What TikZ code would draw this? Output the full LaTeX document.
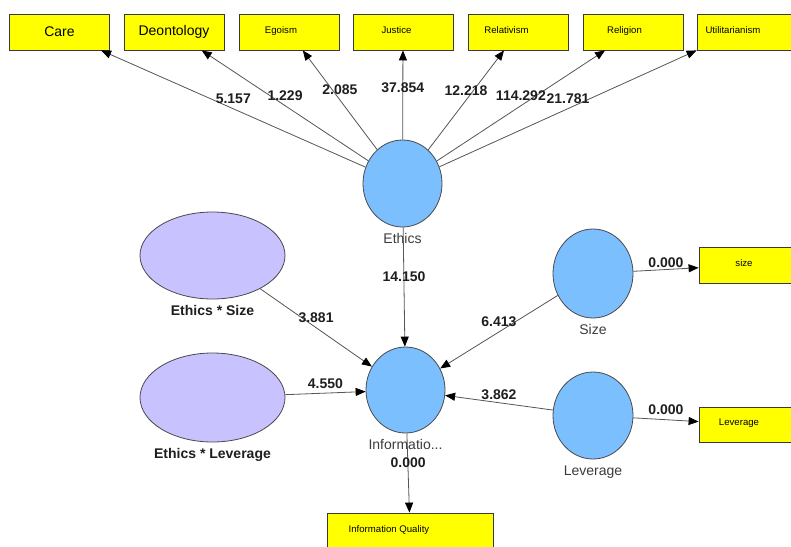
\documentclass[tikz,border=0pt]{standalone}
\usepackage{fontspec}
\setmainfont{Liberation Sans}
\usetikzlibrary{shapes.geometric,arrows.meta}
\definecolor{boxyel}{HTML}{FFFF00}
\definecolor{boxdraw}{HTML}{3A3A3A}
\definecolor{latblue}{HTML}{7CBFFF}
\definecolor{latlav}{HTML}{C8C2FF}
\definecolor{latdraw}{HTML}{4A4A4A}
\definecolor{linegray}{HTML}{555555}
\definecolor{coefcol}{HTML}{1E1E1E}
\definecolor{namecol}{HTML}{3C3C3C}
\newcommand\coeffont{\fontsize{14}{16}\selectfont\bfseries}
\newcommand\namefont{\fontsize{14}{16}\selectfont}
\newcommand\bigboxfont{\fontsize{14}{16}\selectfont}
\newcommand\smboxfont{\fontsize{9.6}{11}\selectfont}
\tikzset{
  ind/.style={draw=boxdraw, fill=boxyel, line width=0.8pt, minimum width=100pt, minimum height=36pt, inner sep=0pt},
  lat/.style={ellipse, draw=latdraw, fill=latblue, line width=0.8pt, inner sep=0pt},
  modlat/.style={lat, fill=latlav},
  conn/.style={draw=linegray, line width=0.8pt, -{Triangle[length=10pt,width=8pt,color=black]}},
  coef/.style={anchor=south, inner sep=0pt, yshift=4.5pt, font=\coeffont, text=coefcol},
  latname/.style={font=\namefont, text=namecol, inner sep=0pt, text height=10pt, text depth=3pt, yshift=-6pt},
  modname/.style={font=\namefont\bfseries, text=coefcol, inner sep=0pt, text height=10pt, text depth=3pt, yshift=-6pt},
  smtxt/.style={font=\smboxfont, text=black, inner sep=0pt, text height=6.9pt, text depth=0pt},
}
\begin{document}
\begin{tikzpicture}[x=1pt,y=-1pt]
\useasboundingbox (0,0) rectangle (791,546);
\clip (0,0) rectangle (791,546);
\fill[white] (0,0) rectangle (791,546);

% indicator boxes (top)
\node[ind, font=\bigboxfont] (care) at (59.5,32) {Care};
\node[ind, font=\bigboxfont] (deon) at (174,32) {Deontology};
\node[ind, label={[smtxt, xshift=-8pt, yshift=2pt]center:Egoism}] (ego) at (289,32) {};
\node[ind, label={[smtxt, xshift=-6.5pt, yshift=2pt]center:Justice}] (just) at (403,32) {};
\node[ind, label={[smtxt, xshift=-11.5pt, yshift=2pt]center:Relativism}] (rel) at (518,32) {};
\node[ind, label={[smtxt, xshift=-8.5pt, yshift=2pt]center:Religion}] (relig) at (633,32) {};
\node[ind, label={[smtxt, xshift=-14pt, yshift=2pt]center:Utilitarianism}] (util) at (747,32) {};

% right and bottom indicator boxes
\node[ind, label={[smtxt, xshift=-5pt, yshift=2pt]center:size}] (sizebox) at (749,265) {};
\node[ind, minimum height=35pt, label={[smtxt, xshift=-10pt, yshift=2pt]center:Leverage}] (levbox) at (749,424.5) {};
\node[ind, minimum width=166pt, minimum height=34pt, label={[smtxt, xshift=-21pt, yshift=1pt]center:Information Quality}] (iq) at (410,530) {};

% latent variables
\node[lat, minimum width=79pt, minimum height=87pt, label={[latname]below:Ethics}] (eth) at (402.5,183.5) {};
\node[lat, minimum width=79pt, minimum height=86pt, label={[latname]below:Informatio...}] (info) at (405.5,390) {};
\node[lat, minimum width=80pt, minimum height=89pt, label={[latname]below:Size}] (size) at (593,273.5) {};
\node[lat, minimum width=80pt, minimum height=87pt, label={[latname]below:Leverage}] (lev) at (593,415.5) {};
\node[modlat, minimum width=145pt, minimum height=87pt, label={[modname]below:Ethics * Size}] (esz) at (212.5,255.5) {};
\node[modlat, minimum width=145pt, minimum height=89pt, label={[modname]below:Ethics * Leverage}] (elev) at (212.5,397.5) {};

% outer loadings of Ethics
\draw[conn] (eth) -- node[coef]{5.157} (care);
\draw[conn] (eth) -- node[coef]{1.229} (deon);
\draw[conn] (eth) -- node[coef]{2.085} (ego);
\draw[conn] (eth) -- node[coef, yshift=-3pt]{37.854} (just);
\draw[conn] (eth) -- node[coef]{12.218} (rel);
\draw[conn] (eth) -- node[coef]{114.292} (relig);
\draw[conn] (eth) -- node[coef]{21.781} (util.south west);

% structural paths
\draw[conn] (eth) -- node[coef]{14.150} (info);
\draw[conn] (esz) -- node[coef]{3.881} (info);
\draw[conn] (elev) -- node[coef]{4.550} (info);
\draw[conn] (size) -- node[coef]{6.413} (info);
\draw[conn] (lev) -- node[coef, yshift=-2pt]{3.862} (info);

% single-indicator loadings
\draw[conn] (size) -- node[coef, yshift=-3pt]{0.000} (sizebox);
\draw[conn] (lev) -- node[coef]{0.000} (levbox);
\draw[conn] (info) -- node[coef]{0.000} (iq);
\end{tikzpicture}
\end{document}
